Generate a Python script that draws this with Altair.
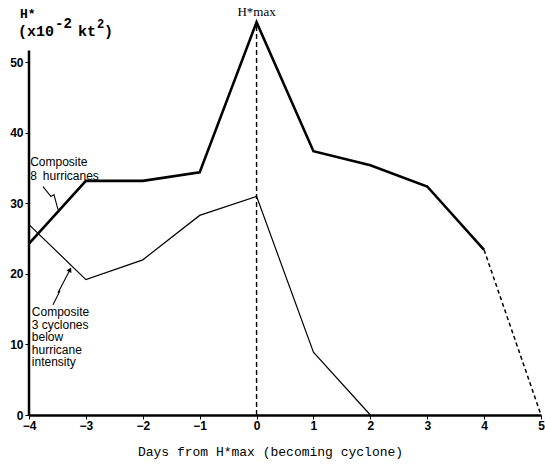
import altair as alt
import pandas as pd

# Composite 8 hurricanes (thick, solid to day 4, dashed 4->5)
hurr_days = [-4, -3, -2, -1, 0, 1, 2, 3, 4]
hurr_vals = [24.3, 33.2, 33.2, 34.4, 55.7, 37.4, 35.4, 32.4, 23.4]
hurr_ext_days = [4, 5]
hurr_ext_vals = [23.4, 0.0]
# Composite 3 cyclones below hurricane intensity (thin)
cyc_days = [-4, -3, -2, -1, 0, 1, 2]
cyc_vals = [27.0, 19.2, 22.0, 28.3, 31.0, 8.9, 0.0]

x_ticks = [-4, -3, -2, -1, 0, 1, 2, 3, 4, 5]
y_ticks = [0, 10, 20, 30, 40, 50]

# annotation pointers (data units)
ptr1_x = [-3.754, -3.613, -3.561, -3.490]
ptr1_y = [32.39, 30.97, 31.25, 29.12]
ptr2_x = [-3.578, -3.455, -3.490, -3.279]
ptr2_y = [15.63, 17.61, 17.33, 20.60]

xs = alt.Scale(domain=[-4, 5], nice=False, zero=False)
ys = alt.Scale(domain=[0, 57], nice=False)

hurr = pd.DataFrame({"d": hurr_days, "v": hurr_vals})
hurr_ext = pd.DataFrame({"d": hurr_ext_days, "v": hurr_ext_vals})
cyc = pd.DataFrame({"d": cyc_days, "v": cyc_vals})
peak = pd.DataFrame({"d": [0, 0], "v": [0, max(hurr_vals)]})
yaxis = pd.DataFrame({"d": [-4, -4], "v": [0, 51.7]})
p1 = pd.DataFrame({"d": ptr1_x, "v": ptr1_y, "o": range(len(ptr1_x))})
p2 = pd.DataFrame({"d": ptr2_x, "v": ptr2_y, "o": range(len(ptr2_x))})

X = alt.X("d:Q", scale=xs, axis=alt.Axis(
    values=x_ticks, format="d", title="Days from H*max (becoming cyclone)",
    titleFont="Liberation Mono", titleFontSize=13, titleFontWeight="normal",
    titlePadding=14, titleColor="black", titleX=241,
    labelFont="Liberation Sans", labelFontWeight="bold", labelFontSize=12,
    labelColor="black", labelPadding=1, tickSize=4, tickColor="black",
    domainColor="black", domainWidth=2.5, grid=False, labelFlush=False))
Y = alt.Y("v:Q", scale=ys, axis=alt.Axis(
    values=y_ticks, format="d", title=None, labelFont="Liberation Sans", labelFontWeight="bold",
    labelFontSize=12, labelColor="black", labelPadding=2, tickSize=4,
    tickColor="black", domain=False, grid=False))

base_x = alt.X("d:Q", scale=xs)
base_y = alt.Y("v:Q", scale=ys)

l_hurr = alt.Chart(hurr).mark_line(color="black", strokeWidth=2.6).encode(x=X, y=Y)
l_ext = alt.Chart(hurr_ext).mark_line(color="black", strokeWidth=1.5, strokeDash=[4, 3]).encode(x=base_x, y=base_y)
l_cyc = alt.Chart(cyc).mark_line(color="black", strokeWidth=1.2).encode(x=base_x, y=base_y)
l_peak = alt.Chart(peak).mark_line(color="black", strokeWidth=1.4, strokeDash=[5, 3]).encode(x=base_x, y=base_y)
l_yax = alt.Chart(yaxis).mark_line(color="black", strokeWidth=2.5).encode(x=base_x, y=base_y)
l_p1 = alt.Chart(p1).mark_line(color="black", strokeWidth=1.1).encode(x=base_x, y=base_y, order="o:Q")
l_p2 = alt.Chart(p2).mark_line(color="black", strokeWidth=1.1).encode(x=base_x, y=base_y, order="o:Q")
head = alt.Chart(pd.DataFrame({"d": [ptr2_x[-1]], "v": [ptr2_y[-1]]})).mark_point(
    shape="triangle-up", filled=True, color="black", size=30, angle=27, opacity=1).encode(x=base_x, y=base_y)

txt_font = "Liberation Sans"
t1 = alt.Chart(pd.DataFrame({"d": [-3.98], "v": [36.6], "t": ["Composite\n8\u2002hurricanes"]})).mark_text(
    align="left", baseline="top", lineBreak="\n", lineHeight=14, font=txt_font, fontSize=12,
    color="black").encode(x=base_x, y=base_y, text="t:N")
t2 = alt.Chart(pd.DataFrame({"d": [-3.95], "v": [15.3],
                             "t": ["Composite\n3 cyclones\nbelow\nhurricane\nintensity"]})).mark_text(
    align="left", baseline="top", lineBreak="\n", lineHeight=12.5, font=txt_font, fontSize=12,
    color="black").encode(x=base_x, y=base_y, text="t:N")
t_max = alt.Chart(pd.DataFrame({"d": [0], "t": ["H*max"]})).mark_text(
    align="center", baseline="middle", font="Liberation Serif", fontSize=13, color="black").encode(
    x=base_x, y=alt.value(-1), text="t:N")

mono = "Liberation Mono"
title_parts = pd.DataFrame({
    "t": ["H*", "(x10", "-2", "kt", "2", ")"],
    "px": [-9, -11, 26, 49, 68, 75],
    "py": [1, 18, 11, 18, 11, 18],
    "fs": [13, 15, 14, 15, 12, 15],
})
t_title = alt.Chart(title_parts).mark_text(
    align="left", baseline="middle", font=mono, fontWeight="bold", color="black").encode(
    x=alt.X("px:Q", scale=None), y=alt.Y("py:Q", scale=None), text="t:N",
    size=alt.Size("fs:Q", scale=None, legend=None))

chart = alt.layer(l_hurr, l_ext, l_cyc, l_peak, l_yax, l_p1, l_p2, head, t1, t2, t_max, t_title).properties(
    width=512, height=402, autosize="none",
    padding={"left": 29, "top": 13, "right": 4, "bottom": 49},
    background="white",
).configure_view(stroke=None)

chart.save("out.html", embed_options={"renderer": "svg", "actions": False})
